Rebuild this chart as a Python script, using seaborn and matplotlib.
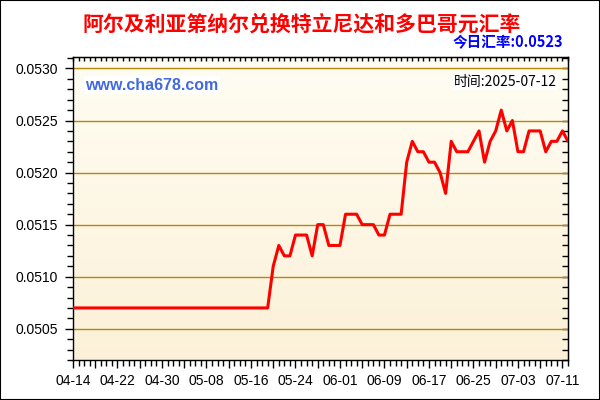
import numpy as np
import pandas as pd
import seaborn as sns
import matplotlib.pyplot as plt
from matplotlib.colors import LinearSegmentedColormap
from matplotlib.patches import Rectangle
from matplotlib.ticker import MultipleLocator

# daily rate, 2025-04-14 .. 2025-07-12 (day 0 .. 89)
day = list(range(90))
rate = [
    0.0507, 0.0507, 0.0507, 0.0507, 0.0507, 0.0507, 0.0507, 0.0507, 0.0507, 0.0507,
    0.0507, 0.0507, 0.0507, 0.0507, 0.0507, 0.0507, 0.0507, 0.0507, 0.0507, 0.0507,
    0.0507, 0.0507, 0.0507, 0.0507, 0.0507, 0.0507, 0.0507, 0.0507, 0.0507, 0.0507,
    0.0507, 0.0507, 0.0507, 0.0507, 0.0507, 0.0507, 0.0511, 0.0513, 0.0512, 0.0512,
    0.0514, 0.0514, 0.0514, 0.0512, 0.0515, 0.0515, 0.0513, 0.0513, 0.0513, 0.0516,
    0.0516, 0.0516, 0.0515, 0.0515, 0.0515, 0.0514, 0.0514, 0.0516, 0.0516, 0.0516,
    0.0521, 0.0523, 0.0522, 0.0522, 0.0521, 0.0521, 0.0520, 0.0518, 0.0523, 0.0522,
    0.0522, 0.0522, 0.0523, 0.0524, 0.0521, 0.0523, 0.0524, 0.0526, 0.0524, 0.0525,
    0.0522, 0.0522, 0.0524, 0.0524, 0.0524, 0.0522, 0.0523, 0.0523, 0.0524, 0.0523,
]

xtick_pos = [0, 8, 16, 24, 32, 40, 48, 56, 64, 72, 80, 88]
xtick_labels = ["04-14", "04-22", "04-30", "05-08", "05-16", "05-24",
                "06-01", "06-09", "06-17", "06-25", "07-03", "07-11"]
ytick_vals = [0.0505, 0.0510, 0.0515, 0.0520, 0.0525, 0.0530]
ytick_labels = ["0.0505", "0.0510", "0.0515", "0.0520", "0.0525", "0.0530"]

title = "阿尔及利亚第纳尔兑换特立尼达和多巴哥元汇率"
today = "今日汇率:0.0523"
stamp = "时间:2025-07-12"
site = "www.cha678.com"

sns.set_style("white")
plt.rcParams['font.family'] = ['Liberation Sans', 'DejaVu Sans']
cjk = ['Noto Sans CJK SC', 'DejaVu Sans']

fig = plt.figure(figsize=(6, 4), dpi=100)
ax = fig.add_axes([73/600, 40/400, 495/600, 303/400])

df = pd.DataFrame({"day": day, "rate": rate})
sns.lineplot(data=df, x="day", y="rate", color="red", lw=2.2, ax=ax, zorder=3)

# background gradient
cmap = LinearSegmentedColormap.from_list("bg", ["#FFFDF3", "#FCF1D8"])
ax.imshow(np.linspace(0, 1, 256).reshape(-1, 1), cmap=cmap, extent=[0, 1, 0, 1],
          transform=ax.transAxes, aspect='auto', zorder=0)
ax.set_xlim(0, 89)
ax.set_ylim(0.05020, 0.05311)

ax.grid(axis='y', color='#B8860B', lw=1)
ax.grid(axis='x', visible=False)
ax.set_axisbelow(True)
for s in ax.spines.values():
    s.set_color('black')
    s.set_linewidth(1)

ax.set_yticks(ytick_vals)
ax.set_yticklabels(ytick_labels)
ax.yaxis.set_minor_locator(MultipleLocator(0.0001))
ax.set_xticks(list(range(0, 90, 4)))
ax.set_xticklabels([xtick_labels[xtick_pos.index(i)] if i in xtick_pos else "" for i in range(0, 90, 4)])
ax.xaxis.set_minor_locator(MultipleLocator(1))
ax.tick_params(which='both', bottom=True, left=True, direction='out', color='black', width=1)
ax.tick_params(which='major', length=6, labelsize=10, labelcolor='black')
ax.tick_params(which='minor', length=4)
ax.tick_params(axis='y', pad=5)
ax.tick_params(axis='x', pad=4)
ax.set_xlabel("")
ax.set_ylabel("")

top = ax.secondary_xaxis('top')
top.set_xticks(list(range(0, 90, 4)))
top.set_xticklabels([])
top.xaxis.set_minor_locator(MultipleLocator(1))
top.tick_params(which='both', direction='in', length=3, width=1, color='black')

right = ax.secondary_yaxis('right')
right.set_yticks(ytick_vals)
right.set_yticklabels([])
right.yaxis.set_minor_locator(MultipleLocator(0.0001))
right.tick_params(which='both', direction='in', length=4, width=1, color='black')

fig.text(0.502, 1 - 24/400, title, ha='center', va='center', color='red',
         fontsize=15, fontweight='bold', family=cjk)
fig.text(563/600, 1 - 42/400, today, ha='right', va='center', color='#0000FF',
         fontsize=10.5, fontweight='bold', family=cjk)
fig.text(557/600, 1 - 82/400, stamp, ha='right', va='center', color='black',
         fontsize=10, family=cjk, zorder=5,
         bbox=dict(facecolor='white', edgecolor='none', pad=1))
fig.text(85/600, 1 - 85/400, site, ha='left', va='center', color='#4169E1',
         fontsize=11.5, fontweight='bold', zorder=5,
         bbox=dict(facecolor='white', edgecolor='none', pad=1))

fig.add_artist(Rectangle((0, 0), 1, 1, transform=fig.transFigure, fill=False,
                         ec='black', lw=1.5))

fig.savefig('out.png', dpi=100)
